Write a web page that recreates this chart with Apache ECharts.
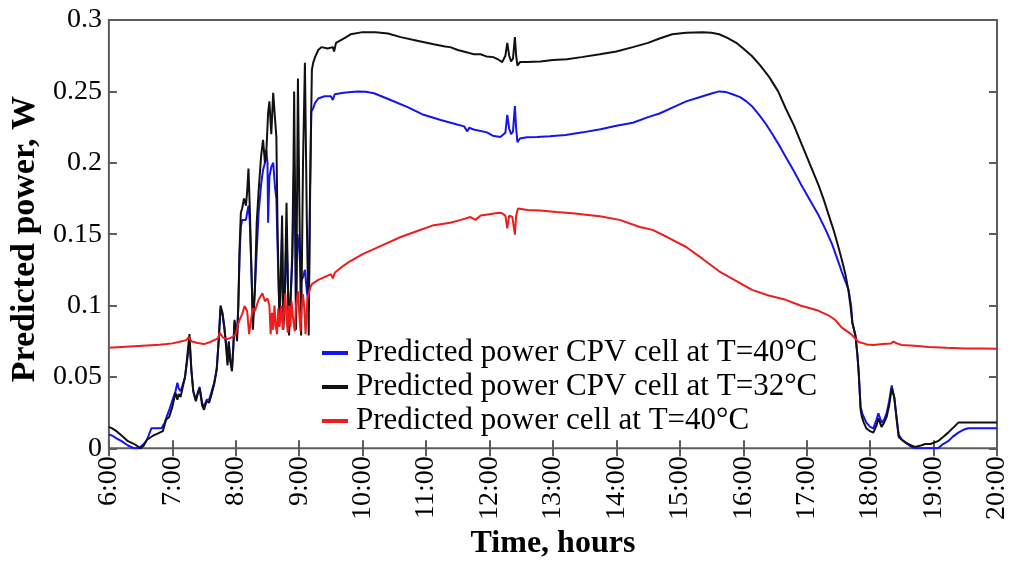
<!DOCTYPE html>
<html lang="en">
<head>
    <meta charset="UTF-8">
    <title>Predicted power</title>
    <script src="https://cdn.jsdelivr.net/npm/echarts@6/dist/echarts.min.js"></script>
    <style>
        html, body { margin: 0; padding: 0; background: #fff; }
        #chart { width: 1011px; height: 565px; }
    </style>
</head>
<body>
    <div id="chart"></div>
    <script>
        // tick labels
        var hourLabels = ['6:00', '7:00', '8:00', '9:00', '10:00', '11:00', '12:00', '13:00',
            '14:00', '15:00', '16:00', '17:00', '18:00', '19:00', '20:00'];
        var powerLabels = ['0', '0.05', '0.1', '0.15', '0.2', '0.25', '0.3'];

        var seriesNames = [
            'Predicted power CPV cell at T=40°C',
            'Predicted power CPV cell at T=32°C',
            'Predicted power cell at T=40°C'
        ];

        // [hour, W]
        var cpv40 = [
            [6.0, 0.0096], [6.05, 0.009], [6.12, 0.007], [6.2, 0.005], [6.3, 0.002], [6.4, 0.0], [6.47, 0.0],
            [6.55, 0.003], [6.6, 0.006], [6.67, 0.014], [6.75, 0.014], [6.83, 0.014], [6.88, 0.018], [6.91, 0.022],
            [6.96, 0.028], [7.0, 0.0335], [7.05, 0.04], [7.08, 0.046], [7.1, 0.042], [7.13, 0.04], [7.16, 0.044],
            [7.2, 0.05], [7.23, 0.06], [7.27, 0.075], [7.3, 0.055], [7.33, 0.04], [7.37, 0.034], [7.4, 0.039],
            [7.43, 0.043], [7.47, 0.032], [7.5, 0.029], [7.54, 0.034], [7.58, 0.034], [7.62, 0.04], [7.66, 0.046],
            [7.7, 0.056], [7.73, 0.075], [7.76, 0.098], [7.79, 0.094], [7.82, 0.084], [7.85, 0.072], [7.87, 0.06],
            [7.89, 0.074], [7.91, 0.063], [7.94, 0.056], [7.96, 0.07], [7.98, 0.088], [8.0, 0.085], [8.02, 0.078],
            [8.04, 0.1], [8.06, 0.135], [8.08, 0.155], [8.1, 0.16], [8.13, 0.161], [8.16, 0.16], [8.18, 0.165],
            [8.2, 0.17], [8.22, 0.16], [8.25, 0.12], [8.27, 0.09], [8.3, 0.11], [8.33, 0.138], [8.36, 0.165],
            [8.4, 0.185], [8.43, 0.195], [8.46, 0.2], [8.48, 0.209], [8.5, 0.2], [8.51, 0.158], [8.53, 0.19],
            [8.56, 0.197], [8.59, 0.2], [8.62, 0.182], [8.64, 0.175], [8.66, 0.14], [8.69, 0.09], [8.71, 0.115],
            [8.73, 0.15], [8.75, 0.09], [8.77, 0.1], [8.8, 0.155], [8.82, 0.115], [8.84, 0.085], [8.86, 0.1],
            [8.89, 0.13], [8.91, 0.17], [8.92, 0.2], [8.94, 0.14], [8.95, 0.09], [8.97, 0.15], [8.98, 0.147],
            [9.0, 0.14], [9.03, 0.117], [9.06, 0.12], [9.09, 0.125], [9.12, 0.11], [9.15, 0.1], [9.17, 0.17],
            [9.19, 0.236], [9.22, 0.238], [9.25, 0.242], [9.3, 0.245], [9.4, 0.2466], [9.5, 0.2466], [9.53, 0.244],
            [9.56, 0.248], [9.7, 0.249], [9.92, 0.25], [10.05, 0.2497], [10.18, 0.2487], [10.44, 0.244],
            [10.71, 0.239], [10.96, 0.2336], [11.23, 0.23], [11.49, 0.2268], [11.6, 0.2255], [11.65, 0.222],
            [11.68, 0.2245], [11.75, 0.2233], [11.96, 0.2213], [12.05, 0.219], [12.17, 0.218], [12.2, 0.217],
            [12.25, 0.221], [12.28, 0.2336], [12.31, 0.224], [12.34, 0.22], [12.37, 0.222], [12.4, 0.2397],
            [12.42, 0.224], [12.44, 0.2145], [12.48, 0.217], [12.59, 0.2178], [12.75, 0.218], [12.95, 0.2185],
            [13.2, 0.2195], [13.47, 0.2213], [13.75, 0.2235], [14.0, 0.226], [14.26, 0.228], [14.5, 0.232],
            [14.68, 0.2345], [14.9, 0.239], [15.1, 0.243], [15.36, 0.2466], [15.5, 0.2485], [15.62, 0.25],
            [15.73, 0.2495], [15.83, 0.248], [15.95, 0.246], [16.05, 0.243], [16.15, 0.239], [16.25, 0.2336],
            [16.36, 0.227], [16.46, 0.22], [16.57, 0.212], [16.67, 0.204], [16.8, 0.194], [16.92, 0.184],
            [17.05, 0.174], [17.19, 0.163], [17.3, 0.153], [17.4, 0.143], [17.48, 0.133], [17.55, 0.124],
            [17.61, 0.117], [17.66, 0.111], [17.7, 0.1], [17.72, 0.088], [17.77, 0.078], [17.8, 0.065],
            [17.82, 0.052], [17.85, 0.029], [17.88, 0.024], [17.94, 0.018], [18.0, 0.015], [18.05, 0.014],
            [18.1, 0.02], [18.13, 0.0246], [18.18, 0.018], [18.22, 0.02], [18.26, 0.0246], [18.3, 0.033],
            [18.34, 0.044], [18.38, 0.0355], [18.42, 0.02], [18.45, 0.0096], [18.5, 0.006], [18.56, 0.004],
            [18.65, 0.001], [18.71, 0.0], [18.9, 0.0], [19.07, 0.0], [19.15, 0.003], [19.23, 0.005], [19.3, 0.008],
            [19.39, 0.011], [19.47, 0.013], [19.55, 0.014], [19.7, 0.014], [19.85, 0.014], [20.0, 0.014]
        ];

        var cpv32 = [
            [6.0, 0.015], [6.05, 0.014], [6.12, 0.012], [6.2, 0.009], [6.3, 0.005], [6.4, 0.003], [6.5, 0.0],
            [6.55, 0.002], [6.6, 0.006], [6.7, 0.009], [6.75, 0.01], [6.85, 0.012], [6.9, 0.02], [6.95, 0.022],
            [7.0, 0.029], [7.03, 0.035], [7.05, 0.039], [7.08, 0.034], [7.1, 0.038], [7.13, 0.036], [7.16, 0.042],
            [7.2, 0.05], [7.23, 0.062], [7.27, 0.08], [7.3, 0.055], [7.33, 0.04], [7.37, 0.033], [7.4, 0.038],
            [7.43, 0.042], [7.47, 0.03], [7.5, 0.027], [7.54, 0.033], [7.58, 0.032], [7.62, 0.038], [7.66, 0.045],
            [7.7, 0.055], [7.73, 0.075], [7.76, 0.1], [7.79, 0.095], [7.82, 0.085], [7.85, 0.07], [7.87, 0.058],
            [7.89, 0.075], [7.91, 0.062], [7.94, 0.054], [7.96, 0.07], [7.98, 0.09], [8.0, 0.085], [8.02, 0.075],
            [8.04, 0.1], [8.06, 0.14], [8.08, 0.165], [8.1, 0.168], [8.13, 0.175], [8.16, 0.17], [8.18, 0.18],
            [8.2, 0.196], [8.22, 0.17], [8.25, 0.12], [8.27, 0.083], [8.3, 0.11], [8.33, 0.158], [8.36, 0.18],
            [8.4, 0.205], [8.43, 0.216], [8.46, 0.2], [8.48, 0.206], [8.51, 0.235], [8.53, 0.243], [8.56, 0.22],
            [8.59, 0.249], [8.62, 0.23], [8.64, 0.218], [8.66, 0.15], [8.69, 0.088], [8.71, 0.12], [8.73, 0.163],
            [8.75, 0.083], [8.77, 0.1], [8.8, 0.172], [8.82, 0.12], [8.84, 0.079], [8.86, 0.1], [8.89, 0.136],
            [8.91, 0.2], [8.92, 0.25], [8.94, 0.15], [8.95, 0.083], [8.97, 0.2], [8.98, 0.259], [9.0, 0.18],
            [9.03, 0.079], [9.06, 0.2], [9.09, 0.27], [9.12, 0.16], [9.15, 0.079], [9.17, 0.18], [9.2, 0.265],
            [9.22, 0.27], [9.25, 0.274], [9.3, 0.279], [9.35, 0.281], [9.45, 0.28], [9.53, 0.281], [9.55, 0.278],
            [9.58, 0.284], [9.7, 0.287], [9.81, 0.29], [10.0, 0.2915], [10.2, 0.2915], [10.4, 0.2905],
            [10.6, 0.288], [10.86, 0.2855], [11.12, 0.283], [11.3, 0.2815], [11.38, 0.281], [11.5, 0.279],
            [11.65, 0.2773], [11.75, 0.276], [11.86, 0.276], [11.95, 0.2745], [12.06, 0.274], [12.15, 0.272],
            [12.2, 0.2705], [12.25, 0.275], [12.28, 0.284], [12.31, 0.275], [12.34, 0.271], [12.37, 0.273],
            [12.4, 0.288], [12.42, 0.275], [12.44, 0.268], [12.48, 0.2705], [12.6, 0.2705], [12.69, 0.2708],
            [12.8, 0.271], [13.0, 0.272], [13.22, 0.2725], [13.45, 0.274], [13.74, 0.276], [14.0, 0.278],
            [14.26, 0.281], [14.5, 0.284], [14.68, 0.287], [14.88, 0.29], [15.1, 0.291], [15.36, 0.2915],
            [15.5, 0.291], [15.62, 0.29], [15.75, 0.2875], [15.89, 0.284], [16.0, 0.28], [16.14, 0.2746],
            [16.27, 0.268], [16.41, 0.26], [16.55, 0.25], [16.67, 0.238], [16.8, 0.226], [16.92, 0.213],
            [17.05, 0.199], [17.19, 0.184], [17.27, 0.174], [17.35, 0.163], [17.43, 0.152], [17.5, 0.141],
            [17.56, 0.131], [17.61, 0.122], [17.66, 0.11], [17.69, 0.0997], [17.72, 0.088], [17.77, 0.079],
            [17.8, 0.065], [17.82, 0.054], [17.85, 0.027], [17.87, 0.022], [17.9, 0.018], [17.94, 0.014],
            [18.0, 0.012], [18.05, 0.011], [18.1, 0.016], [18.13, 0.021], [18.18, 0.015], [18.22, 0.018],
            [18.26, 0.022], [18.3, 0.03], [18.34, 0.042], [18.38, 0.036], [18.42, 0.02], [18.45, 0.008],
            [18.5, 0.006], [18.56, 0.004], [18.65, 0.002], [18.71, 0.001], [18.8, 0.002], [18.87, 0.003],
            [18.95, 0.003], [19.07, 0.005], [19.15, 0.008], [19.23, 0.011], [19.3, 0.014], [19.39, 0.018],
            [19.55, 0.018], [19.7, 0.018], [19.85, 0.018], [20.0, 0.018]
        ];

        var cell40 = [
            [6.0, 0.0705], [6.2, 0.071], [6.4, 0.0715], [6.6, 0.072], [6.8, 0.0725], [6.91, 0.073], [7.0, 0.0735],
            [7.1, 0.0745], [7.22, 0.0758], [7.26, 0.078], [7.3, 0.075], [7.4, 0.0738], [7.5, 0.073], [7.6, 0.0745],
            [7.66, 0.0758], [7.72, 0.077], [7.75, 0.081], [7.8, 0.0775], [7.87, 0.0765], [7.95, 0.078], [8.0, 0.08],
            [8.03, 0.086], [8.06, 0.09], [8.1, 0.094], [8.14, 0.0997], [8.18, 0.096], [8.21, 0.08], [8.24, 0.09],
            [8.27, 0.098], [8.3, 0.096], [8.36, 0.104], [8.42, 0.1086], [8.46, 0.103], [8.5, 0.105], [8.53, 0.1],
            [8.55, 0.08], [8.57, 0.095], [8.59, 0.083], [8.61, 0.1], [8.63, 0.086], [8.65, 0.08], [8.67, 0.098],
            [8.69, 0.085], [8.72, 0.1], [8.74, 0.083], [8.76, 0.095], [8.78, 0.1086], [8.8, 0.09], [8.82, 0.081],
            [8.84, 0.1], [8.86, 0.085], [8.88, 0.103], [8.9, 0.092], [8.93, 0.082], [8.95, 0.1], [8.98, 0.11],
            [9.0, 0.095], [9.02, 0.082], [9.04, 0.1], [9.06, 0.108], [9.08, 0.098], [9.1, 0.08], [9.13, 0.105],
            [9.17, 0.112], [9.2, 0.115], [9.3, 0.118], [9.45, 0.121], [9.5, 0.122], [9.53, 0.119], [9.56, 0.123],
            [9.7, 0.128], [9.8, 0.131], [10.0, 0.136], [10.15, 0.139], [10.35, 0.143], [10.6, 0.148],
            [10.85, 0.152], [11.1, 0.156], [11.38, 0.158], [11.55, 0.16], [11.7, 0.162], [11.78, 0.16],
            [11.86, 0.163], [12.0, 0.164], [12.15, 0.165], [12.2, 0.1646], [12.25, 0.163], [12.28, 0.154],
            [12.31, 0.163], [12.36, 0.162], [12.4, 0.1496], [12.42, 0.163], [12.45, 0.168], [12.6, 0.167],
            [12.8, 0.1666], [13.05, 0.1655], [13.31, 0.1646], [13.55, 0.1635], [13.74, 0.1626], [14.05, 0.16],
            [14.37, 0.155], [14.57, 0.153], [14.8, 0.148], [15.1, 0.141], [15.35, 0.133], [15.62, 0.124],
            [15.9, 0.117], [16.14, 0.111], [16.4, 0.107], [16.67, 0.104], [16.9, 0.1], [17.19, 0.0963],
            [17.35, 0.093], [17.46, 0.0895], [17.55, 0.0847], [17.7, 0.08], [17.82, 0.0745], [17.95, 0.0728],
            [18.05, 0.0724], [18.2, 0.073], [18.33, 0.0735], [18.37, 0.0748], [18.42, 0.0735], [18.5, 0.0724],
            [18.7, 0.0718], [18.92, 0.071], [19.2, 0.0705], [19.5, 0.07], [19.75, 0.07], [20.0, 0.0697]
        ];

        var font = 'Liberation Serif';
        var frameColor = '#5c5c5c';

        var myChart = echarts.init(document.getElementById('chart'));

        function lineSeries(name, data, color) {
            return {
                name: name,
                type: 'line',
                data: data,
                showSymbol: false,
                symbol: 'none',
                lineStyle: { color: color, width: 2 },
                itemStyle: { color: color }
            };
        }

        // x/y axes, one pair with labels and one pair for the ticks on the other sides
        var hourAxis = {
            type: 'value',
            min: 6,
            max: 20,
            interval: 1,
            splitLine: { show: false },
            axisLine: { show: false },
            axisTick: { inside: true, length: 8, lineStyle: { color: frameColor, width: 2 } }
        };
        var powerAxis = {
            type: 'value',
            min: 0,
            max: 0.3,
            interval: 0.05,
            splitLine: { show: false },
            axisLine: { show: false },
            axisTick: { inside: true, length: 8, lineStyle: { color: frameColor, width: 2 } }
        };

        var option = {
            animation: false,
            backgroundColor: '#fff',
            grid: {
                left: 107,
                right: 12,
                top: 20,
                bottom: 106,
                show: true,
                borderColor: frameColor,
                borderWidth: 2,
                backgroundColor: 'transparent'
            },
            legend: {
                orient: 'vertical',
                left: 322,
                top: 336,
                padding: 0,
                itemGap: 0,
                itemWidth: 26,
                itemHeight: 4,
                icon: 'rect',
                data: seriesNames,
                textStyle: { fontFamily: font, fontSize: 31, color: '#000', lineHeight: 34, padding: [0, 0, 0, 3] }
            },
            xAxis: [
                Object.assign({}, hourAxis, {
                    position: 'bottom',
                    name: 'Time, hours',
                    nameLocation: 'middle',
                    nameGap: 77,
                    nameTextStyle: { fontFamily: font, fontSize: 32, fontWeight: 'bold', color: '#000' },
                    axisLabel: {
                        rotate: 90,
                        margin: 8,
                        fontFamily: font,
                        fontSize: 28,
                        color: '#000',
                        formatter: function (v) { return hourLabels[Math.round(v - 6)]; }
                    }
                }),
                Object.assign({}, hourAxis, {
                    position: 'top',
                    axisLabel: { show: false }
                })
            ],
            yAxis: [
                Object.assign({}, powerAxis, {
                    position: 'left',
                    name: 'Predicted power, W',
                    nameLocation: 'middle',
                    nameGap: 63,
                    nameTextStyle: {
                        fontFamily: font, fontSize: 34, fontWeight: 'bold', color: '#000',
                        padding: [0, 10, 0, 0]
                    },
                    axisLabel: {
                        margin: 7,
                        fontFamily: font,
                        fontSize: 28,
                        color: '#000',
                        formatter: function (v) { return powerLabels[Math.round(v / 0.05)]; }
                    }
                }),
                Object.assign({}, powerAxis, {
                    position: 'right',
                    axisLabel: { show: false }
                })
            ],
            series: [
                lineSeries(seriesNames[0], cpv40, '#1414f0'),
                lineSeries(seriesNames[1], cpv32, '#111111'),
                lineSeries(seriesNames[2], cell40, '#ee1c1c')
            ]
        };

        myChart.setOption(option);
    </script>
</body>
</html>
